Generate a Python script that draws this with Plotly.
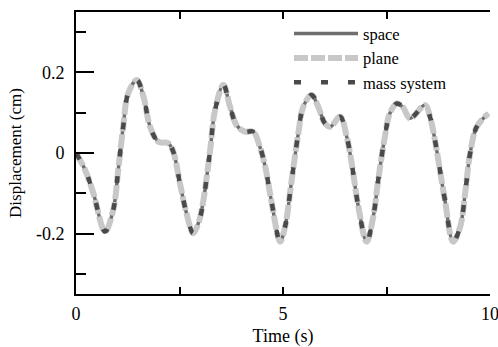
import plotly.graph_objects as go

t = [0.0, 0.22, 0.42, 0.70, 0.90, 1.02, 1.14, 1.26, 1.47, 1.63, 1.79, 1.99, 2.23, 2.35, 2.51, 2.67, 2.83,
     2.97, 3.08, 3.24, 3.36, 3.56, 3.72, 3.88, 4.08, 4.28, 4.44, 4.57, 4.73, 4.93, 5.05, 5.21, 5.37, 5.49,
     5.69, 5.85, 6.01, 6.14, 6.38, 6.54, 6.66, 6.82, 7.02, 7.18, 7.30, 7.46, 7.58, 7.75, 7.90, 8.07, 8.43,
     8.55, 8.67, 8.79, 8.91, 9.11, 9.28, 9.40, 9.52, 9.68, 9.96]
space = [0.0, -0.042, -0.10, -0.195, -0.141, -0.042, 0.065, 0.148, 0.181, 0.14, 0.065, 0.028, 0.024, 0.003,
         -0.075, -0.15, -0.199, -0.17, -0.116, 0.007, 0.107, 0.169, 0.115, 0.069, 0.053, 0.053, 0.016,
         -0.034, -0.125, -0.22, -0.183, -0.067, 0.049, 0.115, 0.144, 0.115, 0.074, 0.065, 0.09, 0.04,
         -0.026, -0.133, -0.22, -0.158, -0.067, 0.04, 0.098, 0.123, 0.113, 0.086, 0.119, 0.09, 0.032,
         -0.042, -0.116, -0.22, -0.183, -0.10, -0.001, 0.065, 0.098]
plane = list(space)
mass = list(space)

x_tickvals = [0, 2.5, 5, 7.5, 10]
x_ticktext = ["0", "", "5", "", "10"]
y_tickvals = [-0.2, 0, 0.2]
y_ticktext = ["-0.2", "0", "0.2"]
y_minor = [-0.3, -0.1, 0.1, 0.3]
y_right = [-0.3, -0.2, -0.1, 0, 0.1, 0.2, 0.3]

serif = "Liberation Serif"

fig = go.Figure()
fig.add_trace(go.Scatter(x=t, y=space, name="space", mode="lines",
                         line=dict(color="#6e6e6e", width=3.5, shape="spline")))
fig.add_trace(go.Scatter(x=t, y=plane, name="plane", mode="lines",
                         line=dict(color="#c8c8c8", width=6, dash="14px,3px", shape="spline")))
fig.add_trace(go.Scatter(x=t, y=mass, name="mass system", mode="lines",
                         line=dict(color="#4a4a4a", width=4.5, dash="7px,20px", shape="spline")))

fig.update_layout(
    width=498, height=347,
    margin=dict(l=76, r=8, t=12, b=53),
    paper_bgcolor="white", plot_bgcolor="white",
    font=dict(family=serif, color="black", size=18),
    showlegend=True,
    legend=dict(x=0.5145, y=0.985, xanchor="left", yanchor="top", bgcolor="rgba(0,0,0,0)",
                font=dict(family=serif, size=16.5), itemwidth=64, tracegroupgap=0),
    xaxis=dict(range=[0, 10], tickvals=x_tickvals, ticktext=x_ticktext, ticks="inside", ticklen=7,
               tickwidth=2, tickcolor="black", showline=True, linewidth=2, linecolor="black", mirror="ticks",
               showgrid=False, zeroline=False, ticklabeloverflow="allow", ticklabelstandoff=2,
               automargin=False, tickfont=dict(size=18),
               title=dict(text="Time (s)", standoff=10, font=dict(size=18))),
    yaxis=dict(range=[-0.35, 0.35], tickvals=y_tickvals, ticktext=y_ticktext, ticks="inside", ticklen=18,
               tickwidth=2, tickcolor="black", showline=True, linewidth=2, linecolor="black",
               minor=dict(tickvals=y_minor, ticks="inside", ticklen=10, tickwidth=2, tickcolor="black"),
               showgrid=False, zeroline=False, ticklabelstandoff=6, automargin=False, tickfont=dict(size=18),
               title=dict(text="Displacement (cm)", standoff=10, font=dict(size=17))),
    yaxis2=dict(range=[-0.35, 0.35], overlaying="y", side="right", anchor="x", tickvals=y_right,
                showticklabels=False, ticks="inside", ticklen=8, tickwidth=2, tickcolor="black",
                showline=True, linewidth=2, linecolor="black", showgrid=False, zeroline=False,
                automargin=False),
)

fig.write_html("out.html")
